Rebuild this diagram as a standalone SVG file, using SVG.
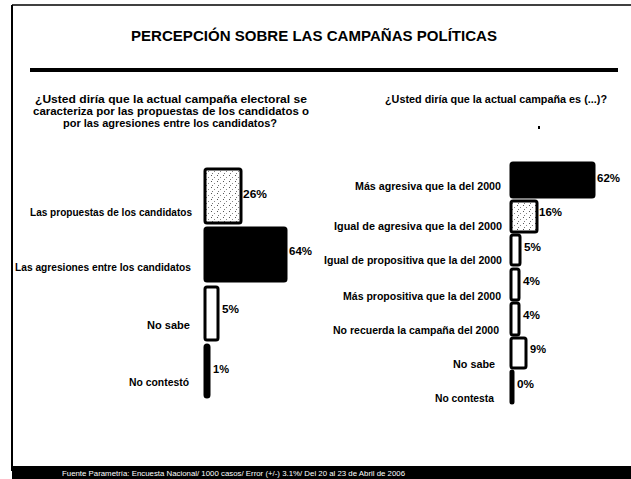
<svg xmlns="http://www.w3.org/2000/svg" width="631" height="479" viewBox="0 0 631 479">
<defs>
<pattern id="dots" width="6" height="6" patternUnits="userSpaceOnUse">
<rect width="6" height="6" fill="#ffffff"/>
<rect x="1" y="1" width="1" height="1" fill="#555"/>
<rect x="4" y="3" width="1" height="1" fill="#888"/>
<rect x="2" y="5" width="1" height="1" fill="#777"/>
</pattern>
<style>
text{font-family:"Liberation Sans",Arial,sans-serif;font-weight:bold;fill:#000}
.t{font-size:15px}
.q{font-size:10.5px;text-anchor:middle}
.l{font-size:10px;text-anchor:end}
.p{font-size:10px}
.f{font-size:7.5px;fill:#fff;font-weight:normal}
.bar{stroke:#000;stroke-width:3}
.blk{fill:#000}
.wht{fill:#fff}
.dot{fill:url(#dots)}
</style>
</defs>
<rect width="631" height="479" fill="#fff"/>
<g id="frame">
<line x1="12" y1="5" x2="631" y2="5" stroke="#000" stroke-width="1.5"/>
<line x1="12" y1="5" x2="12" y2="471" stroke="#000" stroke-width="2"/>
<rect x="12" y="466" width="619" height="13" fill="#000"/>
<text class="f" x="62" y="476" textLength="343" lengthAdjust="spacingAndGlyphs">Fuente Parametría: Encuesta Nacional/ 1000 casos/ Error (+/-) 3.1%/ Del 20 al 23 de Abril de 2006</text>
</g>
<g id="title">
<text class="t" x="314" y="41" text-anchor="middle" textLength="366" lengthAdjust="spacingAndGlyphs">PERCEPCIÓN SOBRE LAS CAMPAÑAS POLÍTICAS</text>
<rect x="30" y="68" width="588" height="4" fill="#000"/>
</g>
<g id="q-left">
<text class="q" x="171" y="103" textLength="272" lengthAdjust="spacingAndGlyphs">¿Usted diría que la actual campaña electoral se</text>
<text class="q" x="171" y="115" textLength="276" lengthAdjust="spacingAndGlyphs">caracteriza por las propuestas de los candidatos o</text>
<text class="q" x="170" y="127" textLength="214" lengthAdjust="spacingAndGlyphs">por las agresiones entre los candidatos?</text>
</g>
<g id="q-right">
<text class="q" x="496" y="103" textLength="222" lengthAdjust="spacingAndGlyphs">¿Usted diría que la actual campaña es (...)?</text>
<rect x="538" y="126" width="2" height="3" fill="#000"/>
</g>
<g id="left-chart">
<g id="l1"><rect class="bar dot" x="205" y="169" width="36" height="54" rx="2"/><text class="p" x="243" y="198" textLength="24" lengthAdjust="spacingAndGlyphs">26%</text><text class="l" x="192" y="216" textLength="162" lengthAdjust="spacingAndGlyphs">Las propuestas de los candidatos</text></g>
<g id="l2"><rect class="bar blk" x="205" y="228" width="81" height="53" rx="2"/><text class="p" x="289" y="255" textLength="23" lengthAdjust="spacingAndGlyphs">64%</text><text class="l" x="191" y="271" textLength="176" lengthAdjust="spacingAndGlyphs">Las agresiones entre los candidatos</text></g>
<g id="l3"><rect class="bar wht" x="205" y="287" width="13" height="53" rx="2"/><text class="p" x="222" y="313" textLength="17" lengthAdjust="spacingAndGlyphs">5%</text><text class="l" x="190" y="329" textLength="43" lengthAdjust="spacingAndGlyphs">No sabe</text></g>
<g id="l4"><rect class="bar blk" x="205" y="345" width="4" height="52" rx="2"/><text class="p" x="213" y="373" textLength="16" lengthAdjust="spacingAndGlyphs">1%</text><text class="l" x="189" y="386" textLength="60" lengthAdjust="spacingAndGlyphs">No contestó</text></g>
</g>
<g id="right-chart">
<g id="r1"><rect class="bar blk" x="511" y="163" width="83" height="34" rx="2"/><text class="p" x="597" y="182" textLength="23" lengthAdjust="spacingAndGlyphs">62%</text><text class="l" x="501" y="190" textLength="146" lengthAdjust="spacingAndGlyphs">Más agresiva que la del 2000</text></g>
<g id="r2"><rect class="bar dot" x="511" y="201" width="26" height="31" rx="2"/><text class="p" x="539" y="216" textLength="23" lengthAdjust="spacingAndGlyphs">16%</text><text class="l" x="502" y="230" textLength="168" lengthAdjust="spacingAndGlyphs">Igual de agresiva que la del 2000</text></g>
<g id="r3"><rect class="bar wht" x="511" y="235" width="9" height="30" rx="2"/><text class="p" x="524" y="251" textLength="17" lengthAdjust="spacingAndGlyphs">5%</text><text class="l" x="502" y="264" textLength="178" lengthAdjust="spacingAndGlyphs">Igual de propositiva que la del 2000</text></g>
<g id="r4"><rect class="bar wht" x="511" y="269" width="8" height="31" rx="2"/><text class="p" x="523" y="285" textLength="17" lengthAdjust="spacingAndGlyphs">4%</text><text class="l" x="501" y="300" textLength="158" lengthAdjust="spacingAndGlyphs">Más propositiva que la del 2000</text></g>
<g id="r5"><rect class="bar wht" x="511" y="303" width="8" height="32" rx="2"/><text class="p" x="523" y="319" textLength="17" lengthAdjust="spacingAndGlyphs">4%</text><text class="l" x="499" y="334" textLength="166" lengthAdjust="spacingAndGlyphs">No recuerda la campaña del 2000</text></g>
<g id="r6"><rect class="bar wht" x="511" y="338" width="15" height="30" rx="2"/><text class="p" x="530" y="353" textLength="16" lengthAdjust="spacingAndGlyphs">9%</text><text class="l" x="495" y="368" textLength="42" lengthAdjust="spacingAndGlyphs">No sabe</text></g>
<g id="r7"><rect class="bar blk" x="511" y="371" width="2" height="32" rx="1"/><text class="p" x="517" y="388" textLength="17" lengthAdjust="spacingAndGlyphs">0%</text><text class="l" x="494" y="402" textLength="59" lengthAdjust="spacingAndGlyphs">No contesta</text></g>
</g>
</svg>
